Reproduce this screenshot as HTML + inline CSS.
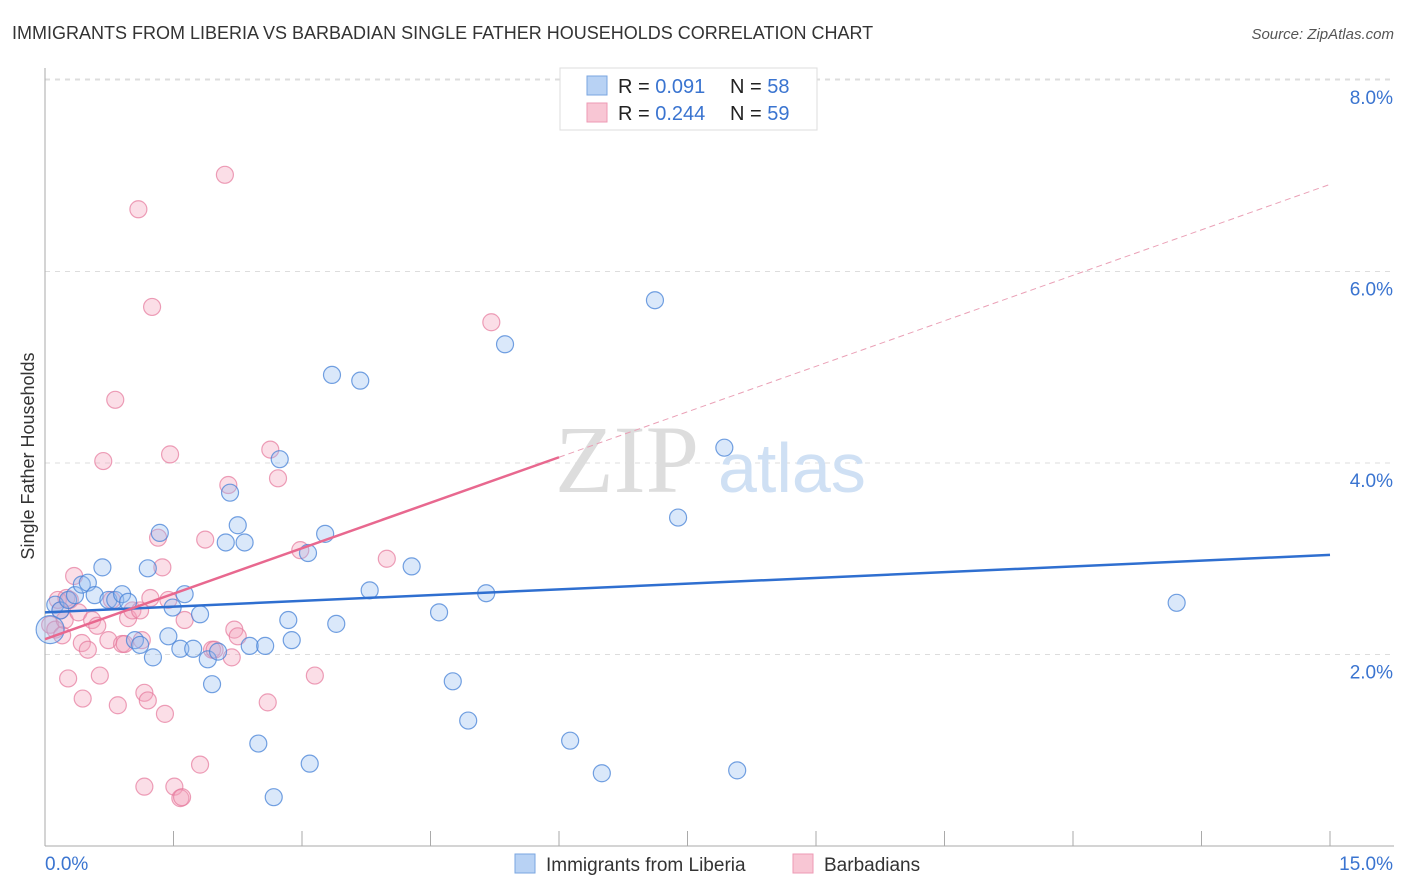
<!DOCTYPE html>
<html><head><meta charset="utf-8"><style>
body{margin:0;background:#fff;font-family:"Liberation Sans",sans-serif;}
#wrap{position:relative;width:1406px;height:892px;overflow:hidden}
</style></head><body>
<div id="wrap">
<svg id="chart" width="1406" height="892" style="position:absolute;left:0;top:0">
<text x="12" y="39" font-size="18" fill="#333">IMMIGRANTS FROM LIBERIA VS BARBADIAN SINGLE FATHER HOUSEHOLDS CORRELATION CHART</text>
<text x="1394" y="39" font-size="15" fill="#555" font-style="italic" text-anchor="end">Source: ZipAtlas.com</text>
<text transform="translate(34,456) rotate(-90)" font-size="18" fill="#333" text-anchor="middle">Single Father Households</text>
<g id="grid"></g>
<text x="555" y="492" font-size="96" fill="#ddd" font-family="Liberation Serif,serif">ZIP</text>
<text x="718" y="492" font-size="70" fill="#cfe0f4">atlas</text>
<g id="pts"></g>
<g id="lines"></g>
<g>
<rect x="560" y="68" width="257" height="62" fill="#fff" stroke="#ddd"/>
<rect x="587" y="76" width="20" height="19" fill="#b8d2f4" stroke="#7aa6e0"/>
<rect x="587" y="103" width="20" height="19" fill="#f8c6d4" stroke="#ee9ab4"/>
<text x="618" y="93" font-size="20" fill="#222">R = <tspan fill="#3a74d0">0.091</tspan></text>
<text x="730" y="93" font-size="20" fill="#222">N = <tspan fill="#3a74d0">58</tspan></text>
<text x="618" y="120" font-size="20" fill="#222">R = <tspan fill="#3a74d0">0.244</tspan></text>
<text x="730" y="120" font-size="20" fill="#222">N = <tspan fill="#3a74d0">59</tspan></text>
</g>
<g>
<rect x="515" y="854" width="20" height="19" fill="#b8d2f4" stroke="#7aa6e0"/>
<text x="546" y="871" font-size="19" fill="#333">Immigrants from Liberia</text>
<rect x="793" y="854" width="20" height="19" fill="#f8c6d4" stroke="#ee9ab4"/>
<text x="824" y="871" font-size="19" fill="#333">Barbadians</text>
</g>
</svg>
</div>
<script>
const blueX=[0.12,0.18,0.27,0.35,0.43,0.50,0.58,0.67,0.74,0.82,0.90,0.97,1.05,1.11,1.20,1.26,1.34,1.44,1.49,1.58,1.63,1.73,1.81,1.90,1.95,2.02,2.11,2.16,2.25,2.33,2.39,2.49,2.57,2.67,2.74,2.84,2.88,3.07,3.09,3.27,3.35,3.40,3.68,3.79,4.28,4.60,4.76,4.94,5.15,5.37,6.13,6.50,7.12,7.39,7.93,8.08,13.21,0.06];
const blueY=[2.52,2.46,2.57,2.62,2.73,2.75,2.62,2.91,2.57,2.57,2.63,2.55,2.15,2.10,2.90,1.97,3.27,2.19,2.49,2.06,2.63,2.06,2.42,1.95,1.69,2.03,3.17,3.69,3.35,3.17,2.09,1.07,2.09,0.51,4.04,2.36,2.15,3.06,0.86,3.26,4.92,2.32,4.86,2.67,2.92,2.44,1.72,1.31,2.64,5.24,1.10,0.76,5.70,3.43,4.16,0.79,2.54,2.26];
const pinkX=[0.06,0.12,0.18,0.23,0.29,0.34,0.39,0.43,0.44,0.50,0.55,0.61,0.64,0.68,0.74,0.78,0.82,0.85,0.90,0.93,0.97,1.02,1.09,1.13,1.16,1.20,1.23,1.25,1.32,1.37,1.40,1.44,1.46,1.51,1.58,1.60,1.63,1.81,1.87,1.95,1.98,2.10,2.14,2.18,2.21,2.25,2.60,2.63,2.72,2.98,3.15,3.99,5.21,0.27,0.20,0.15,0.25,1.16,1.11];
const pinkY=[2.31,2.26,2.46,2.36,2.57,2.82,2.44,2.12,1.54,2.05,2.36,2.30,1.78,4.02,2.15,2.57,4.66,1.47,2.11,2.11,2.38,2.46,6.65,2.15,1.60,1.52,2.59,5.63,3.22,2.91,1.38,2.57,4.09,0.62,0.50,0.51,2.36,0.85,3.20,2.05,2.05,7.01,3.77,1.97,2.26,2.19,1.50,4.14,3.84,3.09,1.78,3.00,5.47,1.75,2.20,2.57,2.59,0.62,2.46];
const blueTrend=[2.44,3.04];
const pinkTrend=[2.16,4.06];
const pinkSolidEnd=6;
const yTicks=[2,4,6,8];
const yTickLabels=["2.0%","4.0%","6.0%","8.0%"];
const xTicks=[0,1.5,3,4.5,6,7.5,9,10.5,12,13.5,15];

const NS="http://www.w3.org/2000/svg";
const X0=45,X1=1330,Y0=846,PPY=95.75;
const sx=v=>X0+(v/15)*(X1-X0);
const sy=v=>Y0-v*PPY;
function mk(tag,attrs,parent){const e=document.createElementNS(NS,tag);for(const k in attrs)e.setAttribute(k,attrs[k]);parent.appendChild(e);return e;}
const grid=document.getElementById('grid');
yTicks.forEach((t,i)=>{
  const l=mk('line',{x1:X0,x2:1394,y1:sy(t),y2:sy(t),stroke:'#ddd','stroke-dasharray':'5,5'},grid);
  
  
  const tx=mk('text',{x:1393,y:sy(t)+24,'font-size':19,fill:'#3a74d0','text-anchor':'end'},grid);
  tx.textContent=yTickLabels[i];
  
  
});
const topLine=mk('line',{x1:X0,x2:1394,y1:79,y2:79,stroke:'#ddd','stroke-dasharray':'5,5'},grid);


const ya=mk('line',{x1:X0,x2:X0,y1:68,y2:846,stroke:'#aaa'},grid);


const xa=mk('line',{x1:X0,x2:1394,y1:846,y2:846,stroke:'#aaa'},grid);


xTicks.forEach(t=>{if(t===0)return;
  const l=mk('line',{x1:sx(t),x2:sx(t),y1:831,y2:846,stroke:'#aaa'},grid);
  
  
});
const xl0=mk('text',{x:45,y:870,'font-size':19,fill:'#3a74d0'},grid);xl0.textContent='0.0%';


const xl1=mk('text',{x:1393,y:870,'font-size':19,fill:'#3a74d0','text-anchor':'end'},grid);xl1.textContent='15.0%';



const pts=document.getElementById('pts');
pinkX.forEach((x,i)=>{
  const c=mk('circle',{cx:sx(x),cy:sy(pinkY[i]),r:8.5,fill:'rgba(244,160,186,0.35)',stroke:'rgba(230,120,155,0.7)','stroke-width':1.2},pts);
  
  
});
blueX.forEach((x,i)=>{
  const c=mk('circle',{cx:sx(x),cy:sy(blueY[i]),r:(i===blueX.length-1?14:8.5),fill:'rgba(150,190,240,0.35)',stroke:'rgba(70,130,215,0.75)','stroke-width':1.2},pts);
  
  
});
const lines=document.getElementById('lines');
const bl=mk('line',{x1:sx(0),y1:sy(blueTrend[0]),x2:sx(15),y2:sy(blueTrend[1]),stroke:'#2f6fd0','stroke-width':2.5},lines);


const pAt=x=>pinkTrend[0]+(pinkTrend[1]-pinkTrend[0])*x/pinkSolidEnd;
const pl=mk('line',{x1:sx(0),y1:sy(pAt(0)),x2:sx(pinkSolidEnd),y2:sy(pAt(pinkSolidEnd)),stroke:'#e8688f','stroke-width':2.5},lines);


const pd=mk('line',{x1:sx(pinkSolidEnd),y1:sy(pAt(pinkSolidEnd)),x2:sx(15),y2:sy(pAt(15)),stroke:'#eaa0b6','stroke-width':1,'stroke-dasharray':'6,4'},lines);


</script>
</body></html>
